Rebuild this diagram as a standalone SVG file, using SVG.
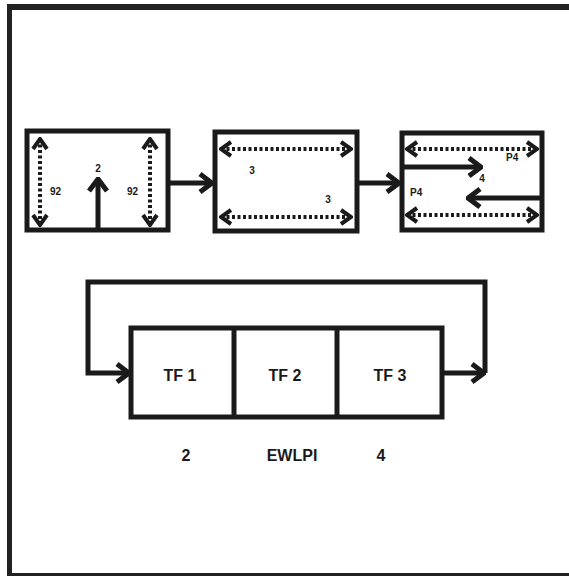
<svg xmlns="http://www.w3.org/2000/svg" width="569" height="577" viewBox="0 0 569 577">
<defs>
<style>
.box{fill:#fff;stroke:#1a1a1a;stroke-width:5}
.dot{fill:none;stroke:#1a1a1a;stroke-width:4;stroke-dasharray:3 2.5}
.sol{fill:none;stroke:#1a1a1a;stroke-width:5}
.lbl{font-family:"Liberation Sans",Arial,sans-serif;font-weight:bold;fill:#1a1a1a}
.sm{font-size:10px}
.big{font-size:16px}
</style>
<marker id="chev" viewBox="0 0 14 18" refX="12" refY="9" markerWidth="14" markerHeight="18" markerUnits="userSpaceOnUse" orient="auto-start-reverse">
<path d="M2,2 L12,9 L2,16" fill="none" stroke="#1a1a1a" stroke-width="4" stroke-linejoin="miter"/>
</marker>
<marker id="chevb" viewBox="0 0 16 22" refX="14" refY="11" markerWidth="16" markerHeight="22" markerUnits="userSpaceOnUse" orient="auto">
<path d="M2,2 L14,11 L2,20" fill="none" stroke="#1a1a1a" stroke-width="5" stroke-linejoin="miter"/>
</marker>
</defs>
<rect width="569" height="577" fill="#fff"/>
<g id="frame">
<line x1="7" y1="7" x2="569" y2="7" stroke="#222" stroke-width="6"/>
<line x1="9.5" y1="4" x2="9.5" y2="576" stroke="#222" stroke-width="5"/>
<line x1="7" y1="574.5" x2="569" y2="574.5" stroke="#222" stroke-width="3"/>
</g>
<g id="box1">
<rect class="box" x="27" y="131" width="141" height="99"/>
<line class="dot" x1="40" y1="139" x2="40" y2="225" marker-start="url(#chev)" marker-end="url(#chev)"/>
<line class="dot" x1="150" y1="139" x2="150" y2="225" marker-start="url(#chev)" marker-end="url(#chev)"/>
<line class="sol" x1="98" y1="230" x2="98" y2="179" marker-end="url(#chevb)"/>
<text class="lbl sm" x="98" y="172" text-anchor="middle">2</text>
<text class="lbl sm" x="50" y="195">92</text>
<text class="lbl sm" x="127" y="195">92</text>
</g>
<g id="box2">
<rect class="box" x="215" y="132" width="142" height="99"/>
<line class="dot" x1="221" y1="149" x2="351" y2="149" marker-start="url(#chev)" marker-end="url(#chev)"/>
<line class="dot" x1="221" y1="217" x2="351" y2="217" marker-start="url(#chev)" marker-end="url(#chev)"/>
<text class="lbl sm" x="252" y="174" text-anchor="middle">3</text>
<text class="lbl sm" x="328" y="203" text-anchor="middle">3</text>
</g>
<g id="box3">
<rect class="box" x="402" y="133" width="140" height="97"/>
<line class="dot" x1="407" y1="149" x2="537" y2="149" marker-start="url(#chev)" marker-end="url(#chev)"/>
<line class="dot" x1="407" y1="215" x2="537" y2="215" marker-start="url(#chev)" marker-end="url(#chev)"/>
<line class="sol" x1="402" y1="167" x2="481" y2="167" marker-end="url(#chevb)"/>
<line class="sol" x1="542" y1="198" x2="468" y2="198" marker-end="url(#chevb)"/>
<text class="lbl sm" x="482" y="182" text-anchor="middle">4</text>
<text class="lbl sm" x="506" y="161">P4</text>
<text class="lbl sm" x="410" y="196">P4</text>
</g>
<g id="tf">
<rect class="box" x="131" y="328" width="311" height="89"/>
<line x1="234" y1="328" x2="234" y2="417" stroke="#1a1a1a" stroke-width="5"/>
<line x1="337" y1="328" x2="337" y2="417" stroke="#1a1a1a" stroke-width="5"/>
<text class="lbl big" x="180" y="381" text-anchor="middle">TF 1</text>
<text class="lbl big" x="285" y="381" text-anchor="middle">TF 2</text>
<text class="lbl big" x="390" y="381" text-anchor="middle">TF 3</text>
</g>
<g id="labels">
<text class="lbl big" x="186" y="461" text-anchor="middle">2</text>
<text class="lbl big" x="292" y="461" text-anchor="middle">EWLPI</text>
<text class="lbl big" x="381" y="461" text-anchor="middle">4</text>
</g>
<g id="connectors">
<line class="sol" x1="168" y1="183" x2="212" y2="183" marker-end="url(#chevb)"/>
<line class="sol" x1="357" y1="183" x2="399" y2="183" marker-end="url(#chevb)"/>
<line class="sol" x1="442" y1="373" x2="484" y2="373" marker-end="url(#chevb)"/>
<polyline class="sol" points="485,373 485,282 88,282 88,373 129,373" marker-end="url(#chevb)"/>
</g>
</svg>
